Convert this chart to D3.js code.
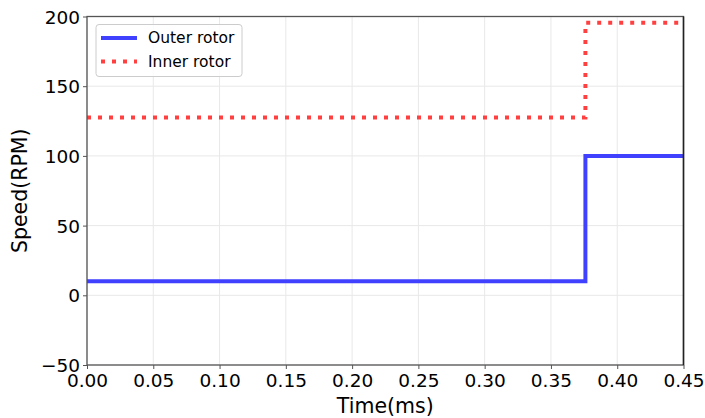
<!DOCTYPE html>
<html><head><meta charset="utf-8">
<script src="https://cdn.jsdelivr.net/npm/d3@7"></script>
<style>body{margin:0;background:#fff}svg{display:block;font-family:"DejaVu Sans",sans-serif}</style>
</head><body>
<svg id="c" width="705" height="418"></svg>
<script>
const outerTime = [0, 0.376, 0.376, 0.45];
const outerSpeed = [10, 10, 100, 100];
const innerTime = [0, 0.376, 0.376, 0.45];
const innerSpeed = [127.5, 127.5, 195.5, 195.5];
const xTicks = [0, 0.05, 0.1, 0.15, 0.2, 0.25, 0.3, 0.35, 0.4, 0.45];
const yTicks = [-50, 0, 50, 100, 150, 200];
const seriesNames = ["Outer rotor", "Inner rotor"];

const svg = d3.select("#c");
const L = 87, R = 683.5, T = 16.5, B = 365;
const x = d3.scaleLinear().domain([0, 0.45]).range([L, R]);
const y = d3.scaleLinear().domain([-50, 200]).range([B, T]);

// grid
svg.append("g").selectAll("line").data(xTicks).join("line")
  .attr("x1", d => x(d)).attr("x2", d => x(d)).attr("y1", T).attr("y2", B)
  .attr("stroke", "#e8e8e8").attr("stroke-width", 1);
svg.append("g").selectAll("line").data(yTicks).join("line")
  .attr("y1", d => y(d)).attr("y2", d => y(d)).attr("x1", L).attr("x2", R)
  .attr("stroke", "#e8e8e8").attr("stroke-width", 1);

const line = d3.line().x(d => x(d[0])).y(d => y(d[1]));
svg.append("clipPath").attr("id", "pc").append("rect")
  .attr("x", L).attr("y", T - 3).attr("width", R - L).attr("height", B - T + 3);

svg.append("path").datum(outerTime.map((t, i) => [t, outerSpeed[i]]))
  .attr("d", line).attr("fill", "none").attr("stroke", "#4040ff")
  .attr("stroke-width", 4).attr("clip-path", "url(#pc)");
svg.append("path").datum(innerTime.map((t, i) => [t, innerSpeed[i]]))
  .attr("d", line).attr("fill", "none").attr("stroke", "#ff4040")
  .attr("stroke-width", 4).attr("stroke-dasharray", "4,7").attr("clip-path", "url(#pc)");

// axes
const xa = svg.append("g").attr("transform", `translate(0,${B})`)
  .call(d3.axisBottom(x).tickValues(xTicks).tickFormat(d3.format(".2f")).tickSize(4).tickPadding(2));
const ya = svg.append("g").attr("transform", `translate(${L},0)`)
  .call(d3.axisLeft(y).tickValues(yTicks).tickFormat(d => d < 0 ? "\u2212" + Math.abs(d) : d).tickSize(4).tickPadding(3));
[xa, ya].forEach(a => {
  a.select(".domain").remove();
  a.selectAll("text").attr("font-size", 18.5).attr("fill", "#000").attr("font-family", "DejaVu Sans");
  a.selectAll("line").attr("stroke", "#555");
});
xa.selectAll("text").attr("dy", "0.88em");
ya.selectAll("text").attr("dy", "0.36em");

// spines
svg.append("rect").attr("x", L).attr("y", T).attr("width", R - L).attr("height", B - T)
  .attr("fill", "none").attr("stroke", "#555").attr("stroke-width", 1.3);
svg.append("line").attr("x1", R).attr("x2", R).attr("y1", T).attr("y2", B)
  .attr("stroke", "#222").attr("stroke-width", 1.5);

svg.append("text").attr("x", (L + R) / 2).attr("y", 412.5).attr("text-anchor", "middle")
  .attr("font-size", 20.5).text("Time(ms)");
svg.append("text").attr("transform", `translate(27,${(T + B) / 2}) rotate(-90)`)
  .attr("text-anchor", "middle").attr("font-size", 20.5).text("Speed(RPM)");

// legend
const lg = svg.append("g");
lg.append("rect").attr("x", 96).attr("y", 24.5).attr("width", 146).attr("height", 52).attr("rx", 3)
  .attr("fill", "#fff").attr("fill-opacity", 0.8).attr("stroke", "#ccc");
const styles = [{c: "#4040ff", d: null}, {c: "#ff4040", d: "4,7"}];
seriesNames.forEach((n, i) => {
  const yy = 38 + i * 23.5;
  lg.append("line").attr("x1", 101).attr("x2", 137).attr("y1", yy).attr("y2", yy)
    .attr("stroke", styles[i].c).attr("stroke-width", 4).attr("stroke-dasharray", styles[i].d);
  lg.append("text").attr("x", 148).attr("y", yy).attr("dy", "0.35em").attr("font-size", 15.5).text(n);
});
</script>
</body></html>
